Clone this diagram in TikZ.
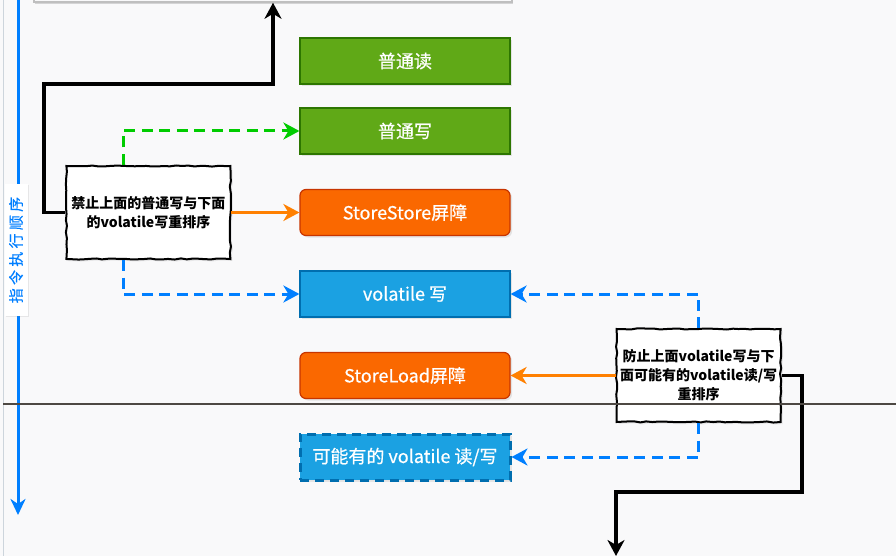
\documentclass[tikz,border=0pt]{standalone}
\usepackage{fontspec}
\setmainfont{Noto Sans CJK SC}
\usepackage{xcolor}
\usetikzlibrary{positioning, arrows.meta, shadows, decorations.pathmorphing}
\definecolor{bgcol}{HTML}{F9F9FA}
\definecolor{greenfill}{HTML}{60A917}
\definecolor{greenline}{HTML}{2D7600}
\definecolor{orangefill}{HTML}{FA6800}
\definecolor{orangeline}{HTML}{C73500}
\definecolor{bluefill}{HTML}{1BA1E2}
\definecolor{blueline}{HTML}{006EAF}
\definecolor{arrowgreen}{HTML}{00CC00}
\definecolor{arrowblue}{HTML}{007FFF}
\definecolor{arroworange}{HTML}{FF8000}
\definecolor{divider}{HTML}{4D4843}
\definecolor{edgegray}{HTML}{CDD5DC}
\tikzstyle{every node}=[font=\fontsize{18}{21}\selectfont]
\tikzstyle{block} = [rectangle, draw, line width=1.2pt, text=white, font=\fontsize{18}{21}\selectfont\addfontfeature{FakeBold=0.6}, minimum width=210pt, minimum height=46pt, inner sep=0pt, node distance=81.5pt, drop shadow={shadow xshift=2pt, shadow yshift=-2pt, opacity=0.18}]
\tikzstyle{plain} = [block, fill=greenfill, draw=greenline]
\tikzstyle{barrier} = [block, fill=orangefill, draw=orangeline, rounded corners=6pt]
\tikzstyle{vol} = [block, fill=bluefill, draw=blueline]
\tikzstyle{note} = [rectangle, draw, fill=white, line width=2pt, align=center, minimum width=164pt, minimum height=93pt, inner sep=1pt, font=\fontsize{14}{19}\selectfont\bfseries, decorate, decoration={random steps, segment length=6pt, amplitude=0.6pt}, drop shadow={shadow xshift=2pt, shadow yshift=-2pt, opacity=0.15}]
\tikzstyle{line} = [draw, line width=3pt, -{Stealth[length=16pt, width=17pt, inset=5pt]}]
\tikzstyle{dashline} = [line, dash pattern=on 11pt off 6.5pt]

\begin{document}
\begin{tikzpicture}[x=1pt, y=-1pt]
    % Canvas
    \fill[bgcol] (0,0) rectangle (896,556);
    \useasboundingbox (0,0) rectangle (896,556);
    \draw[edgegray, line width=1.8pt] (3.5,0) -- (3.5,556);
    \coordinate (axistop) at (18,0);
    \coordinate (axisbottom) at (18,515);
    \coordinate (upper) at (44,84);
    \coordinate (lower) at (802,492);
    \coordinate (next) at (616,556);
    \draw[arrowblue, line width=3pt, -{Stealth[length=16pt, width=15pt, inset=5pt]}] (axistop) -- (axisbottom);
    % Place nodes
    \node [rectangle, draw=gray!50, line width=1.5pt, fill=bgcol, minimum width=478pt, minimum height=44pt, drop shadow={shadow xshift=1pt, shadow yshift=-2pt, opacity=0.3}] (prev) at (273,-20) {};
    \node [rotate=90, fill=white, text=arrowblue, minimum width=132pt, minimum height=23pt, inner sep=0pt, font=\fontsize{15}{17}\selectfont\addfontfeature{LetterSpace=22, FakeBold=0.5}, drop shadow={shadow xshift=1.5pt, shadow yshift=-1pt, opacity=0.15}] (order) at (16,250) {指令执行顺序};
    \node [plain] (read) at (405,61) {普通读};
    \node [plain, node distance=70pt, below of=read] (write) {普通写};
    \node [barrier, below of=write] (storestore) {StoreStore屏障};
    \node [vol, below of=storestore] (vwrite) {volatile 写};
    \node [barrier, below of=vwrite] (storeload) {StoreLoad屏障};
    \node [vol, below of=storeload, line width=3pt, dash pattern=on 9pt off 6pt] (maybe) {可能有的 volatile 读/写};
    \node [note, left=68pt of storestore] (note1) {禁止上面的普通写与下面\\的volatile写重排序};
    \node [note, right=105pt of storeload] (note2) {防止上面volatile写与下\\面可能有的volatile读/写\\重排序};
    % Draw edges
    \path [dashline, draw=arrowgreen] ([xshift=-25pt]note1.north) |- (write.west);
    \path [line, draw=arroworange] (note1) -- (storestore);
    \path [dashline, draw=arrowblue] ([xshift=-25pt]note1.south) |- (vwrite.west);
    \path [dashline, draw=arrowblue] (note2.north) |- (vwrite.east);
    \path [line, draw=arroworange] (note2) -- (storeload);
    \path [dashline, draw=arrowblue] (note2.south) |- (maybe.east);
    \path [line, draw=black, line width=3.5pt] (note1.west) -| (upper) -| (prev.south);
    \path [line, draw=black, line width=3.5pt] (note2.east) -| (lower) -| (next);
    % Divider
    \draw[divider, line width=1.5pt] (3,404) -- (896,404);
\end{tikzpicture}
\end{document}
